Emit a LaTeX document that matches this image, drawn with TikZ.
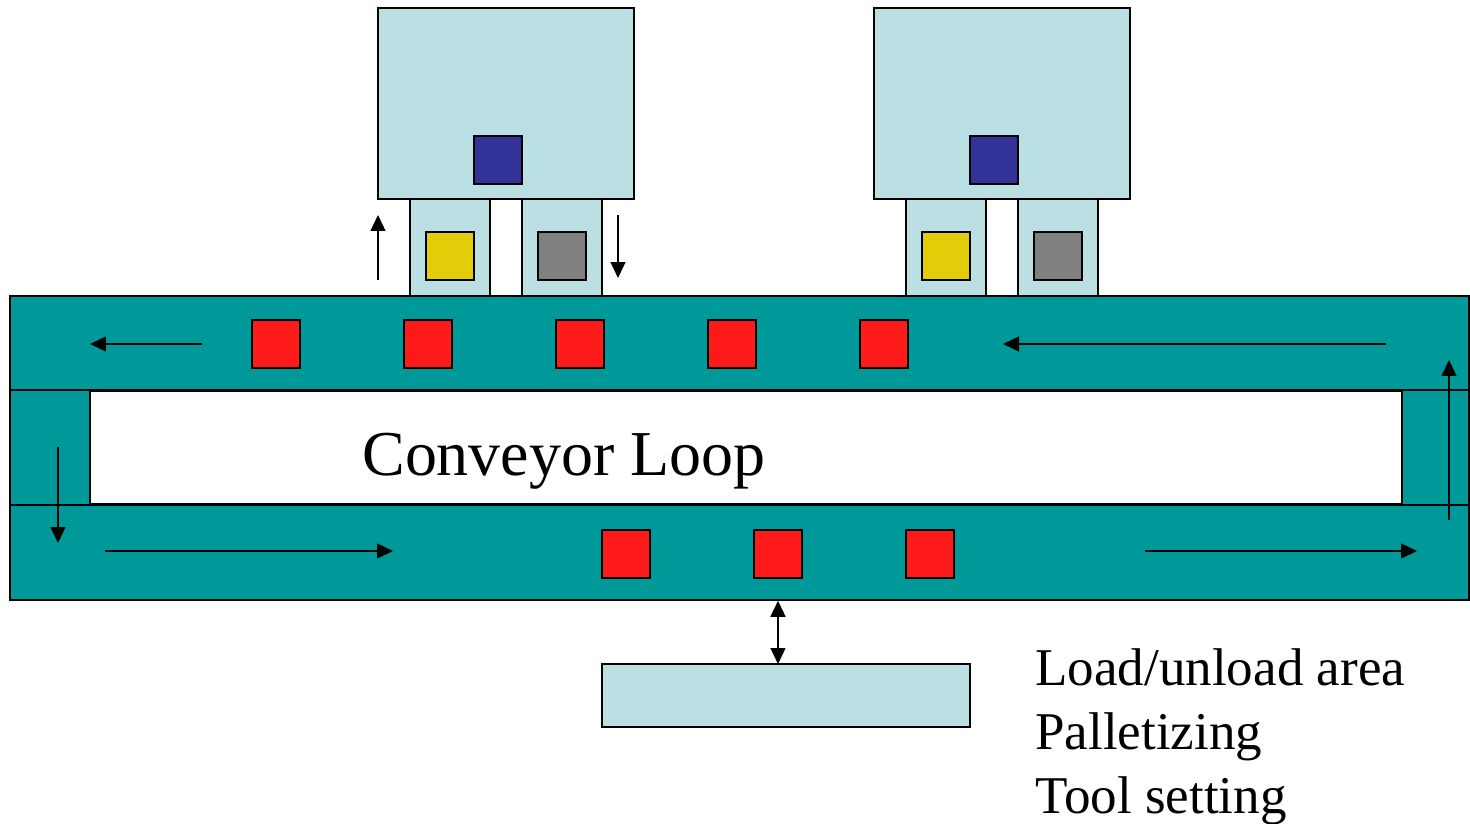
\documentclass[tikz,border=0pt]{standalone}
\usepackage{fontspec}
\setmainfont{Liberation Serif}
\usetikzlibrary{arrows.meta}
\definecolor{belt}{RGB}{0,153,153}
\definecolor{cell}{RGB}{187,224,227}
\definecolor{part}{RGB}{255,26,26}
\definecolor{tool}{RGB}{51,51,153}
\definecolor{fixture}{RGB}{227,204,8}
\definecolor{spare}{RGB}{128,128,128}

\begin{document}
\begin{tikzpicture}
  [x=0.02cm,y=-0.02cm]
      \tikzstyle{box_style} = [draw=black, line width=0.9pt, inner sep=0pt]
      \tikzstyle{part_style} = [box_style, fill=part, minimum size=0.96cm]
      \tikzstyle{flow_style} = [draw=black, line width=0.75pt, -{Triangle[length=0.32cm,width=0.3cm]}]
  \useasboundingbox (0,0) rectangle (1470,824);
  % machining centres with their two pallet stations
  \node[box_style, fill=cell, minimum width=5.12cm, minimum height=3.82cm] (m1) at (506,103.5) {};
  \node[box_style, fill=cell, minimum width=5.12cm, minimum height=3.82cm] (m2) at (1002,103.5) {};
  \node[box_style, fill=cell, minimum width=1.6cm, minimum height=1.94cm] (s1) at (450,247.5) {};
  \node[box_style, fill=cell, minimum width=1.6cm, minimum height=1.94cm] (s2) at (562,247.5) {};
  \node[box_style, fill=cell, minimum width=1.6cm, minimum height=1.94cm] (s3) at (946,247.5) {};
  \node[box_style, fill=cell, minimum width=1.6cm, minimum height=1.94cm] (s4) at (1058,247.5) {};
  \node[box_style, fill=tool, minimum size=0.96cm] (t1) at (498,160) {};
  \node[box_style, fill=tool, minimum size=0.96cm] (t2) at (994,160) {};
  \node[box_style, fill=fixture, minimum size=0.96cm] (f1) at (450,256) {};
  \node[box_style, fill=fixture, minimum size=0.96cm] (f2) at (946,256) {};
  \node[box_style, fill=spare, minimum size=0.96cm] (g1) at (562,256) {};
  \node[box_style, fill=spare, minimum size=0.96cm] (g2) at (1058,256) {};
  % the loop
  \node[box_style, fill=belt, minimum width=29.18cm, minimum height=6.08cm] (loop) at (739.5,448) {};
  \node[box_style, fill=white, minimum width=26.24cm, minimum height=2.26cm] (hole) at (746,447.5) {};
  \draw[box_style] (loop.west |- hole.north) -- (loop.east |- hole.north);
  \draw[box_style] (loop.west |- hole.south) -- (loop.east |- hole.south);
  \node[anchor=base west, inner sep=0pt, font=\fontsize{36.4}{44}\selectfont] (name) at (362,475) {Conveyor Loop};
  % pallets on the belt
  \node[part_style] (p1) at (276,344) {};
  \node[part_style] (p2) at (428,344) {};
  \node[part_style] (p3) at (580,344) {};
  \node[part_style] (p4) at (732,344) {};
  \node[part_style] (p5) at (884,344) {};
  \node[part_style] (p6) at (626,554) {};
  \node[part_style] (p7) at (778,554) {};
  \node[part_style] (p8) at (930,554) {};
  % load station
  \node[box_style, fill=cell, minimum width=7.36cm, minimum height=1.26cm] (lu) at (786,695.5) {};
  \node[anchor=base west, inner sep=0pt, font=\fontsize{30.2}{36}\selectfont] (job1) at (1035,685) {Load/unload area};
  \node[anchor=base west, inner sep=0pt, font=\fontsize{30.2}{36}\selectfont] (job2) at (1035,749) {Palletizing};
  \node[anchor=base west, inner sep=0pt, font=\fontsize{30.2}{36}\selectfont] (job3) at (1035,813) {Tool setting};
  % direction of travel
  \coordinate (a1) at (202,344);  \coordinate (b1) at (90,344);
  \coordinate (a2) at (1386,344); \coordinate (b2) at (1003,344);
  \coordinate (a3) at (58,447);   \coordinate (b3) at (58,543);
  \coordinate (a4) at (105,551);  \coordinate (b4) at (393,551);
  \coordinate (a5) at (1145,551); \coordinate (b5) at (1417,551);
  \coordinate (a6) at (1449,520); \coordinate (b6) at (1449,360);
  \coordinate (a7) at (378,280);  \coordinate (b7) at (378,215);
  \coordinate (a8) at (618,215);  \coordinate (b8) at (618,278);
  \coordinate (a9) at (778,664);
  \draw[flow_style] (a1) -- (b1);
  \draw[flow_style] (a2) -- (b2);
  \draw[flow_style] (a3) -- (b3);
  \draw[flow_style] (a4) -- (b4);
  \draw[flow_style] (a5) -- (b5);
  \draw[flow_style] (a6) -- (b6);
  \draw[flow_style] (a7) -- (b7);
  \draw[flow_style] (a8) -- (b8);
  \draw[flow_style, {Triangle[length=0.32cm,width=0.3cm]}-{Triangle[length=0.32cm,width=0.3cm]}] (loop.south -| a9) -- (a9);
\end{tikzpicture}
\end{document}
